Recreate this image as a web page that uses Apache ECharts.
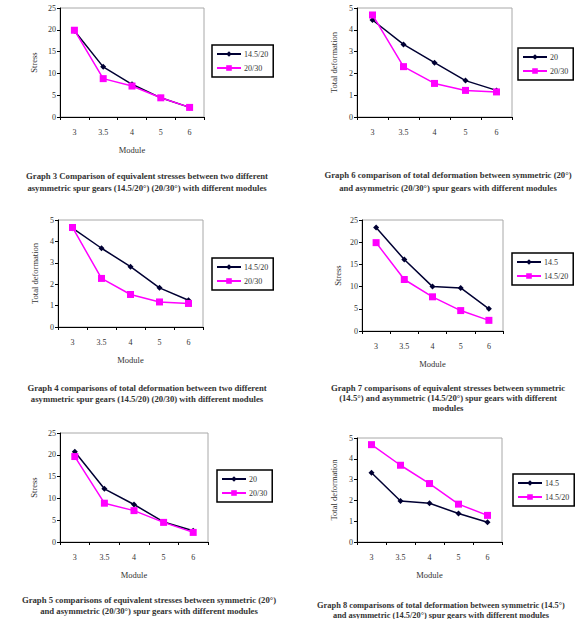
<!DOCTYPE html>
<html><head><meta charset="utf-8">
<script src="https://cdn.jsdelivr.net/npm/echarts@6/dist/echarts.min.js"></script>
<style>html,body{margin:0;padding:0;background:#fff}#c{width:575px;height:619px}</style>
</head><body><div id="c"></div>
<script>
// Category (module) labels shared by all six graphs
const modules = ['3', '3.5', '4', '5', '6'];

// Graph 3: equivalent stress, 14.5/20 vs 20/30
const g3Names = ['14.5/20', '20/30'];
const g3A = [19.8, 11.5, 7.5, 4.4, 2.2];
const g3B = [19.9, 8.8, 7.1, 4.4, 2.2];

// Graph 6: total deformation, 20 vs 20/30
const g6Names = ['20', '20/30'];
const g6A = [4.45, 3.33, 2.49, 1.67, 1.22];
const g6B = [4.68, 2.31, 1.54, 1.22, 1.15];

// Graph 4: total deformation, 14.5/20 vs 20/30
const g4Names = ['14.5/20', '20/30'];
const g4A = [4.62, 3.68, 2.82, 1.83, 1.25];
const g4B = [4.65, 2.27, 1.52, 1.17, 1.1];

// Graph 7: equivalent stress, 14.5 vs 14.5/20
const g7Names = ['14.5', '14.5/20'];
const g7A = [23.3, 16.1, 10.0, 9.7, 5.0];
const g7B = [19.9, 11.6, 7.7, 4.6, 2.4];

// Graph 5: equivalent stress, 20 vs 20/30
const g5Names = ['20', '20/30'];
const g5A = [20.7, 12.2, 8.6, 4.6, 2.6];
const g5B = [19.6, 8.9, 7.2, 4.5, 2.2];

// Graph 8: total deformation, 14.5 vs 14.5/20
const g8Names = ['14.5', '14.5/20'];
const g8A = [3.33, 1.97, 1.86, 1.37, 0.95];
const g8B = [4.68, 3.69, 2.81, 1.82, 1.28];

// Axis titles and captions
const yStress = 'Stress';
const yDef = 'Total deformation';
const xName = 'Module';
const cap3 = ['Graph 3 Comparison of equivalent stresses between two different', 'asymmetric spur gears (14.5/20°) (20/30°) with different modules'];
const cap6 = ['Graph 6 comparison of total deformation between symmetric (20°)', 'and asymmetric (20/30°) spur gears with different modules'];
const cap4 = ['Graph 4 comparisons of total deformation between two different', 'asymmetric spur gears (14.5/20) (20/30) with different modules'];
const cap7 = ['Graph 7 comparisons of equivalent stresses between symmetric', '(14.5°) and asymmetric (14.5/20°) spur gears with different', 'modules'];
const cap5 = ['Graph 5 comparisons of equivalent stresses between symmetric (20°)', 'and asymmetric (20/30°) spur gears with different modules'];
const cap8 = ['Graph 8 comparisons of total deformation between symmetric (14.5°)', 'and asymmetric (14.5/20°) spur gears with different modules'];

const FONT = '"Liberation Serif", "Times New Roman", serif';
const TXT = '#333';

const panels = [
  { id: 'g3', names: g3Names, a: g3A, b: g3B, ymax: 25, yint: 5, yName: yStress, xName: xName,
    grid: { left: 60, top: 8, width: 144, height: 109 }, legend: { left: 212, top: 45 }, nameGap: 22,
    cap: cap3, capX: 147, capY: 176, capDy: 12, capFs: 8.7 },
  { id: 'g6', names: g6Names, a: g6A, b: g6B, ymax: 5, yint: 1, yName: yDef, xName: '',
    grid: { left: 357, top: 8, width: 155, height: 109 }, legend: { left: 518, top: 48 }, nameGap: 19,
    cap: cap6, capX: 448, capY: 175, capDy: 12.5, capFs: 8.7 },
  { id: 'g4', names: g4Names, a: g4A, b: g4B, ymax: 5, yint: 1, yName: yDef, xName: xName,
    grid: { left: 58, top: 220, width: 145, height: 107 }, legend: { left: 212, top: 258 }, nameGap: 19,
    cap: cap4, capX: 147, capY: 388, capDy: 10.5, capFs: 8.7 },
  { id: 'g7', names: g7Names, a: g7A, b: g7B, ymax: 25, yint: 5, yName: yStress, xName: xName,
    grid: { left: 362, top: 220, width: 141, height: 111 }, legend: { left: 512, top: 253 }, nameGap: 20,
    cap: cap7, capX: 448, capY: 388, capDy: 10, capFs: 8.7 },
  { id: 'g5', names: g5Names, a: g5A, b: g5B, ymax: 25, yint: 5, yName: yStress, xName: xName,
    grid: { left: 60, top: 433, width: 148, height: 109 }, legend: { left: 217, top: 470 }, nameGap: 22,
    cap: cap5, capX: 149, capY: 600, capDy: 10.5, capFs: 8.7 },
  { id: 'g8', names: g8Names, a: g8A, b: g8B, ymax: 5, yint: 1, yName: yDef, xName: xName,
    grid: { left: 357, top: 438, width: 145, height: 104 }, legend: { left: 513, top: 474 }, nameGap: 19,
    cap: cap8, capX: 441, capY: 605, capDy: 10, capFs: 8.4 }
];

const grids = [], xAxes = [], yAxes = [], series = [], legends = [], graphics = [];
panels.forEach((p, i) => {
  grids.push(Object.assign({ show: true, borderColor: '#a8a8a8', borderWidth: 1, backgroundColor: '#fff' }, p.grid));
  xAxes.push({
    type: 'category', gridIndex: i, data: modules, boundaryGap: true,
    name: p.xName, nameLocation: 'middle', nameGap: 28,
    nameTextStyle: { fontFamily: FONT, fontSize: 8.5, color: TXT },
    axisLine: { lineStyle: { color: '#000', width: 1 } },
    axisTick: { show: true, length: 3, lineStyle: { color: '#000' } },
    axisLabel: { fontFamily: FONT, fontSize: 8, color: TXT, margin: 11 },
    splitLine: { show: false }
  });
  yAxes.push({
    type: 'value', gridIndex: i, min: 0, max: p.ymax, interval: p.yint,
    name: p.yName, nameLocation: 'middle', nameGap: p.nameGap, nameRotate: 90,
    nameTextStyle: { fontFamily: FONT, fontSize: 8.5, color: TXT },
    axisLine: { show: true, lineStyle: { color: '#000', width: 1 } },
    axisTick: { show: true, length: 3, lineStyle: { color: '#000' } },
    axisLabel: { fontFamily: FONT, fontSize: 8, color: TXT, margin: 4 },
    splitLine: { show: false }
  });
  const nA = p.id + '|' + p.names[0], nB = p.id + '|' + p.names[1];
  series.push({
    type: 'line', name: nA, xAxisIndex: i, yAxisIndex: i, data: p.a,
    symbol: 'diamond', symbolSize: 6, color: '#000033',
    lineStyle: { width: 1.5, color: '#000033' }, itemStyle: { color: '#000033' }, z: 2
  });
  series.push({
    type: 'line', name: nB, xAxisIndex: i, yAxisIndex: i, data: p.b,
    symbol: 'rect', symbolSize: 7, color: '#ff00ff',
    lineStyle: { width: 1.5, color: '#ff00ff' }, itemStyle: { color: '#ff00ff' }, z: 3
  });
  legends.push({
    data: [nA, nB], left: p.legend.left, top: p.legend.top, orient: 'vertical',
    formatter: n => n.split('|')[1],
    itemWidth: 24, itemHeight: 7, itemGap: 6, padding: [5, 5, 5, 4],
    borderColor: '#000', borderWidth: 1.5, backgroundColor: '#fff',
    textStyle: { fontFamily: FONT, fontSize: 8, color: TXT, padding: [0, 0, 0, -2] },
    selectedMode: false
  });
  p.cap.forEach((line, k) => {
    graphics.push({
      type: 'text', x: p.capX, y: p.capY + k * p.capDy,
      style: { text: line, textAlign: 'center', textVerticalAlign: 'middle',
        font: 'bold ' + p.capFs + 'px ' + FONT, fill: TXT }
    });
  });
});

const chart = echarts.init(document.getElementById('c'), null, { renderer: 'svg' });
chart.setOption({
  animation: false,
  backgroundColor: '#fff',
  grid: grids, xAxis: xAxes, yAxis: yAxes, series: series, legend: legends,
  graphic: graphics
});
</script>
</body></html>
